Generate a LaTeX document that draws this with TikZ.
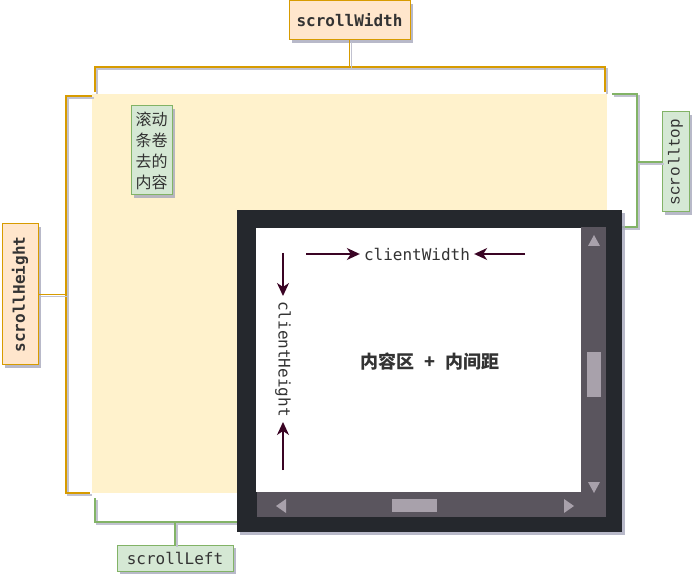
\documentclass[tikz,border=0pt]{standalone}
\usepackage{fontspec}
\setmonofont{DejaVu Sans Mono}
\newfontfamily\courier{Liberation Mono}
\newfontfamily\cjk{Noto Sans CJK SC}
\usetikzlibrary{shadows,arrows.meta}

\definecolor{orangeline}{HTML}{D79B00}
\definecolor{orangefill}{HTML}{FFE6CC}
\definecolor{greenline}{HTML}{82B366}
\definecolor{greenfill}{HTML}{D5E8D4}
\definecolor{scrollarea}{HTML}{FFF2CC}
\definecolor{framedark}{HTML}{25282D}
\definecolor{bargray}{HTML}{5A555E}
\definecolor{thumbgray}{HTML}{A8A1AB}
\definecolor{arrowred}{HTML}{3A0424}
\definecolor{shadowgray}{HTML}{A6A8BC}
\definecolor{textgray}{HTML}{333333}

\tikzset{
  boxshadow/.style={drop shadow={shadow xshift=3pt,shadow yshift=-3pt,fill=shadowgray,opacity=0.8}},
  orangebox/.style={draw=orangeline,fill=orangefill,line width=1pt,boxshadow,inner sep=0pt,
    text=textgray,font=\ttfamily\bfseries\fontsize{16}{16}\selectfont},
  greenbox/.style={draw=greenline,fill=greenfill,line width=1pt,boxshadow,inner sep=0pt,
    text=textgray,font=\ttfamily\fontsize{16}{16}\selectfont},
  bracket/.style={line width=1.6pt,
    preaction={draw=shadowgray!70,line width=1.6pt,transform canvas={shift={(2pt,-2pt)}}}},
  obracket/.style={bracket,draw=orangeline},
  gbracket/.style={bracket,draw=greenline},
  sizearrow/.style={draw=arrowred,line width=1.6pt,-{Stealth[length=13pt,width=12pt,inset=4pt]}},
  arrowtri/.style={fill=thumbgray}
}

\begin{document}
\begin{tikzpicture}[x=1pt,y=-1pt]
\useasboundingbox (0,0) rectangle (697,580);

% scrolled content area
\fill[scrollarea] (92,94) rectangle (607,493);
\node[greenbox,minimum width=41pt,minimum height=89pt,align=center,
  font=\cjk\fontsize{16}{21}\selectfont] (hidden) at (151.5,150.5) {滚动\\条卷\\去的\\内容};

% labels
\node[orangebox,minimum width=121pt,minimum height=39pt] (sw) at (349.5,20.5) {scrollWidth};
\node[orangebox,minimum width=36pt,minimum height=141pt] (sh) at (20,294.5) {\rotatebox{90}{scrollHeight}};
\node[greenbox,minimum width=27pt,minimum height=100pt,font=\courier\fontsize{16}{16}\selectfont] (st) at (675.5,162) {\rotatebox{90}{scrolltop}};
\node[greenbox,minimum width=116pt,minimum height=26pt] (sl) at (175,558) {scrollLeft};

% brackets
\coordinate (topmid) at (349.5,67);
\coordinate (leftmid) at (66,294.5);
\coordinate (rightmid) at (637,162);
\coordinate (botmid) at (175,522);
\draw[obracket] (95,92) -- (95,67) -- (605,67) -- (605,92);
\draw[obracket] (sw.south) -- (topmid);
\draw[obracket] (92,96) -- (66,96) -- (66,493) -- (90,493);
\draw[obracket] (sh.east) -- (leftmid);
\draw[gbracket] (612,94) -- (637,94) -- (637,227) -- (612,227);
\draw[gbracket] (st.west) -- (rightmid);
\draw[gbracket] (95,498) -- (95,522) -- (257,522) -- (257,498);
\draw[gbracket] (sl.north) -- (botmid);

% visible window
\fill[framedark,boxshadow] (237,210) rectangle (622,532);
\fill[white] (256,228) rectangle (581,492);
\fill[bargray] (581,227) rectangle (606,517);
\fill[bargray] (257,492) rectangle (581,517);
\fill[thumbgray] (587,352) rectangle (601,397);
\fill[thumbgray] (392,499) rectangle (437,512);
\fill[arrowtri] (588,246) -- (600,246) -- (594,235) -- cycle;
\fill[arrowtri] (588,482) -- (600,482) -- (594,493) -- cycle;
\fill[arrowtri] (276,506) -- (286,499) -- (286,513) -- cycle;
\fill[arrowtri] (574,506) -- (564,499) -- (564,513) -- cycle;

% client size
\node[text=textgray,font=\ttfamily\fontsize{16}{16}\selectfont,inner sep=4pt] (cw) at (417,254) {clientWidth};
\coordinate (cwl) at (306,254);
\coordinate (cwr) at (525,254);
\draw[sizearrow] (cwl) -- (cw.west);
\draw[sizearrow] (cwr) -- (cw.east);
\node[text=textgray,font=\ttfamily\fontsize{16}{16}\selectfont,inner sep=5pt,rotate=-90] (ch) at (283,359) {clientHeight};
\coordinate (cht) at (283,253);
\coordinate (chb) at (283,470);
\draw[sizearrow] (cht) -- (ch.west);
\draw[sizearrow] (chb) -- (ch.east);

\node[text=textgray,font=\cjk\bfseries\fontsize{18}{18}\selectfont] (content) at (430,362) {内容区\hspace{10pt}+\hspace{10pt}内间距};
\end{tikzpicture}
\end{document}
